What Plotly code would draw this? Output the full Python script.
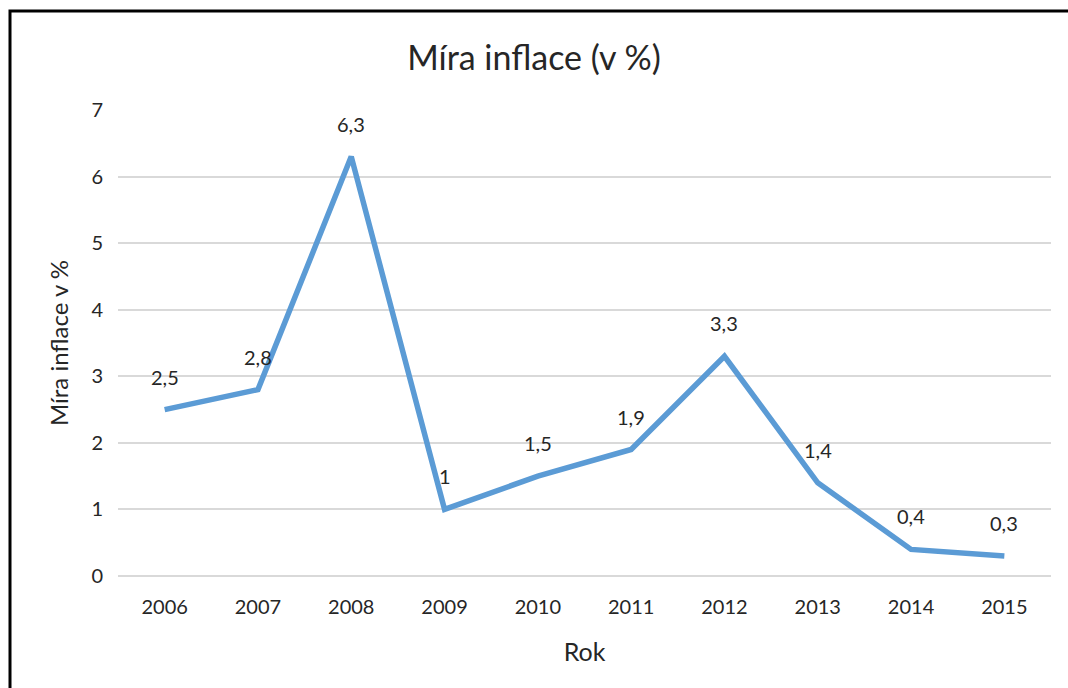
import plotly.graph_objects as go

years = ["2006", "2007", "2008", "2009", "2010", "2011", "2012", "2013", "2014", "2015"]
inflation = [2.5, 2.8, 6.3, 1.0, 1.5, 1.9, 3.3, 1.4, 0.4, 0.3]
labels = ["2,5", "2,8", "6,3", "1", "1,5", "1,9", "3,3", "1,4", "0,4", "0,3"]

FONT = "Lato, sans-serif"
TXT = "#262626"

fig = go.Figure()
fig.add_trace(go.Scatter(
    x=years, y=inflation, mode="lines",
    line=dict(color="#5B9BD5", width=5.5),
    hoverinfo="x+y", showlegend=False,
))

for i, (y, t) in enumerate(zip(inflation, labels)):
    fig.add_annotation(x=i, y=y, xref="x", yref="y", text=t, showarrow=False, yshift=33,
                       font=dict(family=FONT, size=20, color=TXT))

L, R, T, B = 118, 1051, 110, 576
W, H = R - L, B - T
left_x = (10 - L) / W
top_y = (B - 11) / H
fig.add_shape(type="path", xref="paper", yref="paper",
              path=f"M {left_x} -0.3 L {left_x} {top_y} L 1.1 {top_y}",
              line=dict(color="black", width=3))

fig.update_layout(
    width=1068, height=688,
    margin=dict(l=L, r=1068 - R, t=T, b=688 - B),
    paper_bgcolor="white", plot_bgcolor="white",
    title=dict(text="Míra inflace (v %)", x=0.5, xanchor="center",
               y=1 - 58 / 688, yanchor="middle",
               font=dict(family=FONT, size=34, color=TXT)),
    xaxis=dict(type="category", range=[-0.5, 9.5], showgrid=False,
               showline=False, ticks="", zeroline=False, ticklabelstandoff=17,
               tickfont=dict(family=FONT, size=20, color=TXT),
               title=dict(text="Rok", font=dict(family=FONT, size=25, color=TXT), standoff=26)),
    yaxis=dict(range=[0, 7], dtick=1, showgrid=True, gridcolor="#D9D9D9", gridwidth=1.5,
               zeroline=True, zerolinecolor="#D9D9D9", zerolinewidth=1.5,
               showline=False, ticks="", ticklabelstandoff=14,
               tickfont=dict(family=FONT, size=20, color=TXT),
               title=dict(text="Míra inflace v %", font=dict(family=FONT, size=24, color=TXT), standoff=15)),
)

fig.write_html("out.html", config={"displayModeBar": False},
               post_script="document.body.style.margin='0';")
